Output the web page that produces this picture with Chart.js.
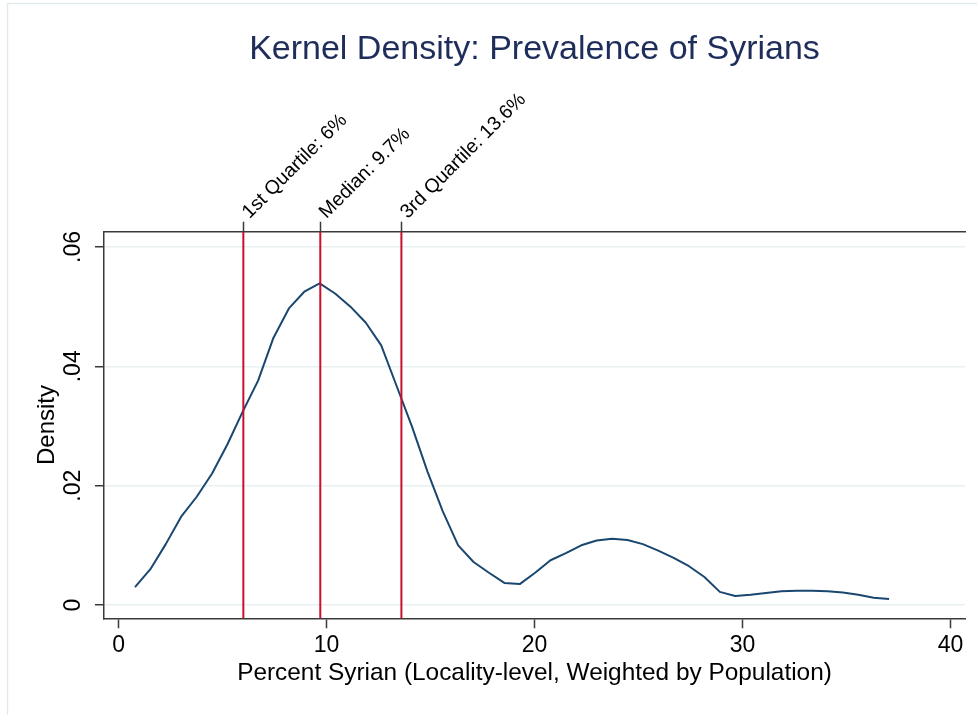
<!DOCTYPE html>
<html>
<head>
<meta charset="utf-8">
<title>Kernel Density: Prevalence of Syrians</title>
<script src="https://cdn.jsdelivr.net/npm/chart.js@4.4.1/dist/chart.umd.min.js"></script>
<style>
    html, body { margin: 0; padding: 0; background: #ffffff; }
    #wrap { width: 977px; height: 715px; }
</style>
</head>
<body>
<div id="wrap"><canvas id="graficoDensidade" width="977" height="715"></canvas></div>
<script>

// pontos onde o kdensity foi avaliado (percent syrian)
const pontosX = [0.79, 1.53, 2.27, 3.01, 3.75, 4.49, 5.23, 5.97, 6.71, 7.45,
    8.19, 8.93, 9.67, 10.41, 11.15, 11.89, 12.63, 13.37, 14.11, 14.85,
    15.59, 16.33, 17.07, 17.81, 18.55, 19.29, 20.03, 20.77, 21.51, 22.25,
    22.99, 23.73, 24.47, 25.21, 25.95, 26.69, 27.43, 28.17, 28.91, 29.65,
    30.39, 31.13, 31.87, 32.61, 33.35, 34.09, 34.83, 35.57, 36.31, 37.05];

// densidade
const densidade = [0.0030, 0.0060, 0.0102, 0.0148, 0.0181, 0.0220, 0.0269, 0.0324, 0.0376, 0.0448,
    0.0497, 0.0525, 0.0539, 0.0522, 0.0500, 0.0473, 0.0435, 0.0367, 0.0299, 0.0224,
    0.0157, 0.0100, 0.0072, 0.0054, 0.0037, 0.0035, 0.0054, 0.0075, 0.0087, 0.0100,
    0.0108, 0.0111, 0.0109, 0.0102, 0.0091, 0.0079, 0.0065, 0.0047, 0.0022, 0.0015,
    0.0017, 0.0020, 0.0023, 0.0024, 0.0024, 0.0023, 0.0021, 0.0017, 0.0012, 0.0010];

const quartis = [6, 9.7, 13.6];
const nomesQuartis = ["1st Quartile: 6%", "Median: 9.7%", "3rd Quartile: 13.6%"];

const ticksX = [0, 10, 20, 30, 40];
const ticksY = [0, 0.02, 0.04, 0.06];
const labelsY = ["0", ".02", ".04", ".06"];

const fonte = "'Liberation Sans', Arial, Helvetica, sans-serif";

const extras = {
    id: 'extras',
    beforeDraw(chart) {
        const ctx = chart.ctx;
        ctx.save();
        ctx.fillStyle = '#ffffff';
        ctx.fillRect(0, 0, chart.width, chart.height);
        // moldura clara da area do grafico
        ctx.strokeStyle = '#e1ebee';
        ctx.lineWidth = 1.5;
        ctx.beginPath();
        ctx.moveTo(7.5, chart.height);
        ctx.lineTo(7.5, 3.5);
        ctx.lineTo(chart.width, 3.5);
        ctx.stroke();
        ctx.restore();
    },
    afterDatasetsDraw(chart) {
        const ctx = chart.ctx;
        const area = chart.chartArea;
        const sx = chart.scales.x;
        ctx.save();
        ctx.strokeStyle = '#c8102e';
        ctx.lineWidth = 2;
        quartis.forEach(function(q) {
            const px = sx.getPixelForValue(q);
            ctx.beginPath();
            ctx.moveTo(px, area.top);
            ctx.lineTo(px, area.bottom);
            ctx.stroke();
        });
        ctx.restore();
    },
    afterDraw(chart) {
        const ctx = chart.ctx;
        const area = chart.chartArea;
        const sy = chart.scales.y;
        ctx.save();
        // titulo
        ctx.fillStyle = '#1e2d5a';
        ctx.font = "34px " + fonte;
        ctx.textAlign = 'center';
        ctx.textBaseline = 'alphabetic';
        ctx.fillText("Kernel Density: Prevalence of Syrians", (area.left + area.right) / 2, 59);
        // labels do eixo y, na vertical
        ctx.fillStyle = '#000000';
        ctx.font = "23px " + fonte;
        ctx.textBaseline = 'middle';
        ticksY.forEach(function(v, i) {
            const py = sy.getPixelForValue(v);
            ctx.save();
            ctx.translate(74, py);
            ctx.rotate(-Math.PI / 2);
            ctx.fillText(labelsY[i], 0, 0);
            ctx.restore();
        });
        ctx.restore();
    }
};

const ctx = document.getElementById('graficoDensidade').getContext('2d');
new Chart(ctx, {
    type: 'line',
    data: {
        labels: pontosX,
        datasets: [{
            label: 'Density',
            data: pontosX.map((x, i) => ({ x: x, y: densidade[i] })),
            borderColor: '#1a476f',
            borderWidth: 2,
            pointRadius: 0,
            tension: 0,
            fill: false,
            borderJoinStyle: 'round'
        }]
    },
    options: {
        responsive: false,
        animation: false,
        layout: { padding: { top: 0, left: 0, right: 12, bottom: 0 } },
        plugins: {
            legend: { display: false },
            title: { display: false },
            tooltip: { enabled: false }
        },
        scales: {
            x: {
                type: 'linear',
                position: 'bottom',
                min: -0.7,
                max: 40.7,
                afterBuildTicks: scale => { scale.ticks = ticksX.map(v => ({ value: v })); },
                afterFit: scale => { scale.height = 96.7; },
                ticks: {
                    color: '#000000',
                    padding: 4,
                    maxRotation: 0,
                    font: { family: fonte, size: 23 },
                    callback: v => String(v)
                },
                grid: {
                    drawOnChartArea: false,
                    drawTicks: true,
                    tickLength: 10,
                    tickColor: '#3a3a3a',
                    tickWidth: 1.5
                },
                border: { display: true, color: '#3a3a3a', width: 1.5 },
                title: {
                    display: true,
                    text: 'Percent Syrian (Locality-level, Weighted by Population)',
                    color: '#000000',
                    font: { family: fonte, size: 24.4 },
                    padding: { top: 0, bottom: 27 }
                }
            },
            x2: {
                type: 'linear',
                axis: 'x',
                position: 'top',
                min: -0.7,
                max: 40.7,
                afterBuildTicks: scale => { scale.ticks = quartis.map(v => ({ value: v })); },
                afterFit: scale => { scale.height = 231.7; },
                ticks: {
                    color: '#000000',
                    padding: -2,
                    labelOffset: 19,
                    minRotation: 45,
                    maxRotation: 45,
                    autoSkip: false,
                    font: { family: fonte, size: 19.5 },
                    callback: function(v) {
                        const i = quartis.indexOf(v);
                        return i >= 0 ? nomesQuartis[i] : '';
                    }
                },
                grid: {
                    drawOnChartArea: false,
                    drawTicks: true,
                    tickLength: 10,
                    tickColor: '#3a3a3a',
                    tickWidth: 1.5
                },
                border: { display: true, color: '#3a3a3a', width: 1.5 }
            },
            y: {
                type: 'linear',
                min: -0.00223,
                max: 0.06256,
                afterBuildTicks: scale => { scale.ticks = ticksY.map(v => ({ value: v })); },
                afterFit: scale => { scale.width = 104; },
                ticks: { display: false },
                grid: {
                    color: '#e8f0f2',
                    lineWidth: 1.5,
                    drawTicks: true,
                    tickLength: 9,
                    tickColor: '#3a3a3a',
                    tickWidth: 1.5
                },
                border: { display: true, color: '#3a3a3a', width: 1.5 },
                title: {
                    display: true,
                    text: 'Density',
                    color: '#000000',
                    font: { family: fonte, size: 24 },
                    padding: { top: 33, bottom: 0 }
                }
            }
        }
    },
    plugins: [extras]
});

</script>
</body>
</html>
